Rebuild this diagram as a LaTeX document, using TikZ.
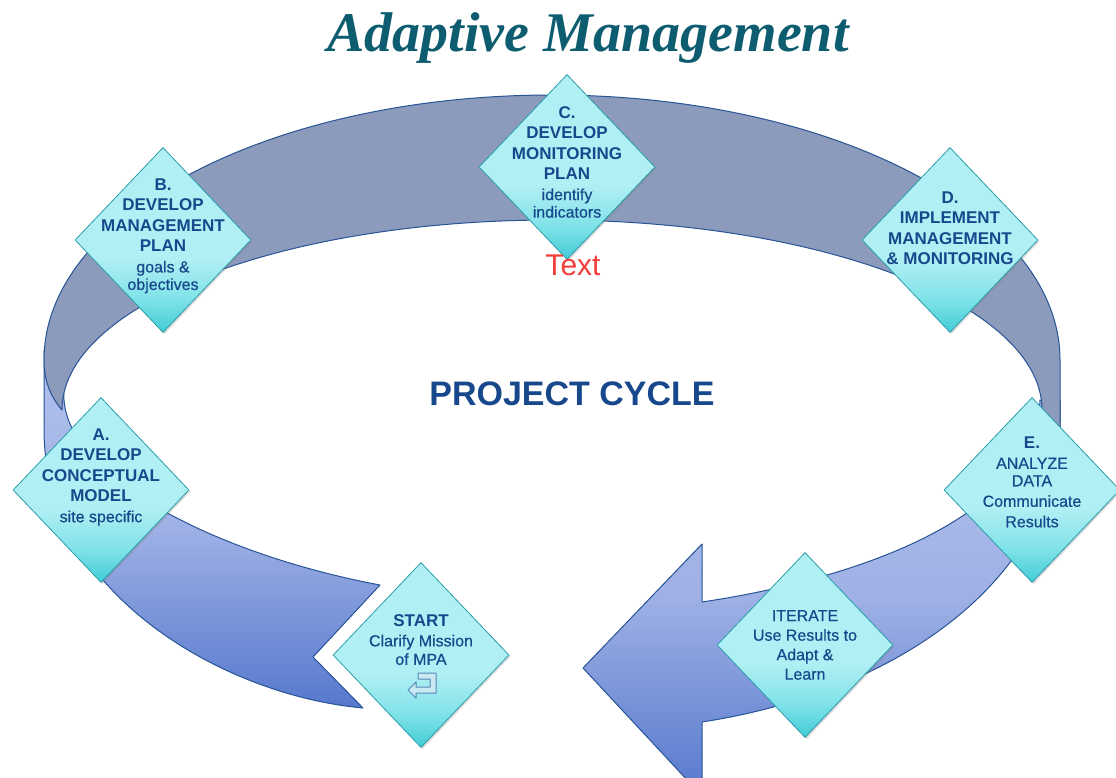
\documentclass[tikz,border=0pt]{standalone}
\usepackage{fontspec}
\setmainfont{Liberation Sans}
\newfontfamily\titlefont{Liberation Serif}
\newfontfamily\subfont{Liberation Sans}[FakeBold=0.5]
\usetikzlibrary{shapes.geometric,shadows}

\definecolor{textblue}{RGB}{24,72,140}
\definecolor{titleteal}{RGB}{14,92,112}
\definecolor{bandgray}{RGB}{140,154,188}
\definecolor{bandedge}{RGB}{38,84,150}
\definecolor{bandlight}{RGB}{178,193,236}
\definecolor{bandmid}{RGB}{158,176,229}
\definecolor{banddark}{RGB}{86,120,205}
\definecolor{cyanlight}{RGB}{176,239,243}
\definecolor{cyanmid}{RGB}{128,226,233}
\definecolor{cyandark}{RGB}{66,204,214}
\definecolor{cyanedge}{RGB}{40,158,170}
\definecolor{textred}{RGB}{240,62,56}
\definecolor{iconfill}{RGB}{200,232,242}
\definecolor{iconedge}{RGB}{86,136,186}

\pgfdeclareverticalshading{stagefill}{100bp}{color(0bp)=(cyandark); color(25bp)=(cyandark); color(34bp)=(cyanmid); color(45bp)=(cyanlight); color(100bp)=(cyanlight)}

\newcommand{\subline}[1]{{\subfont\mdseries\fontsize{16}{19}\selectfont #1}}

\begin{document}
\begin{tikzpicture}[x=1pt,y=-1pt,
            band/.style={draw=bandedge,line width=1pt,line join=round},
            stage node/.style={diamond,draw=cyanedge,line width=0.8pt,shade,shading=stagefill,
                minimum width=176pt,minimum height=185pt,inner sep=0pt,
                drop shadow={shadow xshift=1.5pt,shadow yshift=-1.5pt,opacity=0.3}},
            stage text/.style={align=center,text=textblue,inner sep=0pt,
                font=\fontsize{17}{20.5}\selectfont\bfseries}]

        \clip (0,0) rectangle (1116,778);

        % Title
        \node[font=\titlefont\fontsize{56}{60}\selectfont\bfseries\itshape,text=titleteal,anchor=base] (title) at (588,52) {Adaptive Management};

        % Front band (left piece, notched tail)
        \shade[band,top color=bandlight,bottom color=banddark,middle color=bandmid]
            (44,350) -- (44,430) .. controls (44,590) and (220,695) .. (363,708)
            -- (313,657) -- (380,585) .. controls (220,555) and (70,480) .. (64,400)
            -- (62,350) -- cycle;

        % Front band (right piece with arrow head)
        \shade[band,top color=bandlight,bottom color=banddark,middle color=bandmid]
            (1060,400) -- (1060,420) .. controls (1060,570) and (910,690) .. (702,722)
            -- (702,796) -- (583,668) -- (702,544) -- (702,602)
            .. controls (850,580) and (1035,520) .. (1040,400) -- cycle;

        % Back band
        \path[band,fill=bandgray]
            (62,410) .. controls (50,396) and (44,380) .. (44,360)
            arc[start angle=180,end angle=360,x radius=508,y radius=265]
            -- (1060,440) -- (1040,440) -- (1042,410)
            arc[start angle=0,end angle=-180,x radius=490,y radius=190] -- cycle;

        % Stages
        \node[stage node] (A) at (101,490) {};
        \node[stage node] (B) at (163,240) {};
        \node[stage node] (C) at (567,167) {};
        \node[stage node] (D) at (950,240) {};
        \node[stage node] (E) at (1032,490) {};
        \node[stage node] (iterate) at (805,645) {};
        \node[stage node] (start) at (421,655) {};

        % Stage texts
        \node[stage text] (Atext) at ([yshift=13pt]A) {A.\\DEVELOP\\CONCEPTUAL\\MODEL\\\subline{site specific}};
        \node[stage text] (Btext) at ([yshift=4pt]B) {B.\\DEVELOP\\MANAGEMENT\\PLAN\\\subline{goals \&}\\[-3pt]\subline{objectives}};
        \node[stage text] (Ctext) at ([yshift=5pt]C) {C.\\DEVELOP\\MONITORING\\PLAN\\\subline{identify}\\[-3pt]\subline{indicators}};
        \node[stage text] (Dtext) at ([yshift=12pt]D) {D.\\IMPLEMENT\\MANAGEMENT\\\& MONITORING};
        \node[stage text] (Etext) at ([yshift=8pt]E) {E.\\\subline{ANALYZE}\\[-3pt]\subline{DATA}\\\subline{Communicate}\\\subline{Results}};
        \node[stage text] (iteratetext) at (iterate) {\subline{ITERATE}\\[-1pt]\subline{Use Results to}\\[-1pt]\subline{Adapt \&}\\[-1pt]\subline{Learn}};
        \node[stage text] (starttext) at ([yshift=15pt]start) {START\\[-1pt]\subline{Clarify Mission}\\[-2pt]\subline{of MPA}};

        % Return icon
        \draw[fill=iconfill,draw=iconedge,line width=1pt,line join=round,shift={(422,686)}]
            (-4,-13) -- (14,-13) -- (14,7) -- (-6,7) -- (-6,12) -- (-14,4) -- (-6,-4)
            -- (-6,1) -- (8,1) -- (8,-7) -- (-4,-7) -- cycle;

        % Labels
        \node[font=\fontsize{34}{40}\selectfont\bfseries,text=textblue,anchor=base] (cycle) at (572,405) {PROJECT CYCLE};
        \node[font=\fontsize{30}{34}\selectfont,text=textred,anchor=base] (textlabel) at (573,275) {Text};

\end{tikzpicture}
\end{document}
